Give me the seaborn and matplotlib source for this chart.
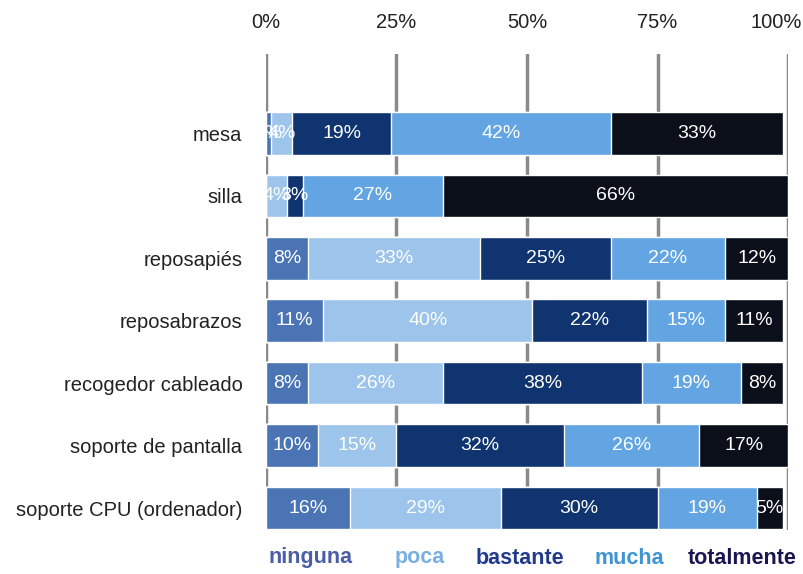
import seaborn as sns
import matplotlib.pyplot as plt
import matplotlib.transforms as mtransforms
import pandas as pd
import numpy as np

# --- data ---
items = ["mesa", "silla", "reposapiés", "reposabrazos", "recogedor cableado",
         "soporte de pantalla", "soporte CPU (ordenador)"]
levels = ["ninguna", "poca", "bastante", "mucha", "totalmente"]
ninguna = [1, 0, 8, 11, 8, 10, 16]
poca = [4, 4, 33, 40, 26, 15, 29]
bastante = [19, 3, 25, 22, 38, 32, 30]
mucha = [42, 27, 22, 15, 19, 26, 19]
totalmente = [33, 66, 12, 11, 8, 17, 5]

bar_colors = ["#4a74b4", "#9dc4ea", "#0f346f", "#62a5e2", "#0b0f1a"]
legend_colors = ["#4b5ea6", "#79b0e0", "#223a8c", "#3f94d2", "#1a1652"]

df = pd.DataFrame({"item": items, "ninguna": ninguna, "poca": poca,
                   "bastante": bastante, "mucha": mucha, "totalmente": totalmente})
cum = df[levels].cumsum(axis=1)

# --- plot ---
sns.set_style("white")
plt.rcParams["font.family"] = ["Liberation Sans", "DejaVu Sans"]

fig = plt.figure(figsize=(8.04, 5.74), dpi=100)
ax = fig.add_axes([266 / 804, 44 / 574, 522 / 804, 476 / 574])

# stacked bars: draw cumulative totals from the last level back to the first
for lvl, col in reversed(list(zip(levels, bar_colors))):
    sns.barplot(x=cum[lvl], y=df["item"], color=col, saturation=1,
                width=0.68, orient="h", ax=ax, zorder=2)

# value labels in the middle of each segment
for i in range(len(items)):
    for lvl in levels:
        v = df.loc[i, lvl]
        if v == 0:
            continue
        xc = cum.loc[i, lvl] - v / 2
        ax.text(xc, i, f"{v}%", ha="center", va="center", color="white",
                fontsize=14, zorder=3)

ax.set_xlim(0, 100)
ax.set_ylim(6.35, -1.27)
ax.xaxis.tick_top()
ax.set_xticks([0, 25, 50, 75, 100])
ax.set_xticklabels(["0%", "25%", "50%", "75%", "100%"])
ax.tick_params(axis="x", length=0, pad=16, labelsize=14.5, colors="#222222")
ax.tick_params(axis="y", length=0, pad=17, labelsize=14.5, colors="#222222")
# keep the last tick label inside the figure
last = ax.get_xticklabels()[-1]
last.set_transform(last.get_transform() +
                   mtransforms.ScaledTranslation(-12 / 100, 0, fig.dpi_scale_trans))
ax.set_xlabel("")
ax.set_ylabel("")
ax.grid(axis="x", color="#8a8a8a", linewidth=2.5)
ax.grid(axis="y", visible=False)
ax.set_axisbelow(True)
sns.despine(ax=ax, left=True, bottom=True, top=True, right=True)

# legend as coloured words along the bottom
legend_x = [269, 395, 476, 595, 688]
for name, col, xp in zip(levels, legend_colors, legend_x):
    fig.text(xp / 804, 1 - 558 / 574, name, color=col, fontsize=15.5,
             fontweight="bold", ha="left", va="center",
             family=["Liberation Sans Narrow", "Liberation Sans", "DejaVu Sans"])

fig.savefig("out.png", dpi=100)
